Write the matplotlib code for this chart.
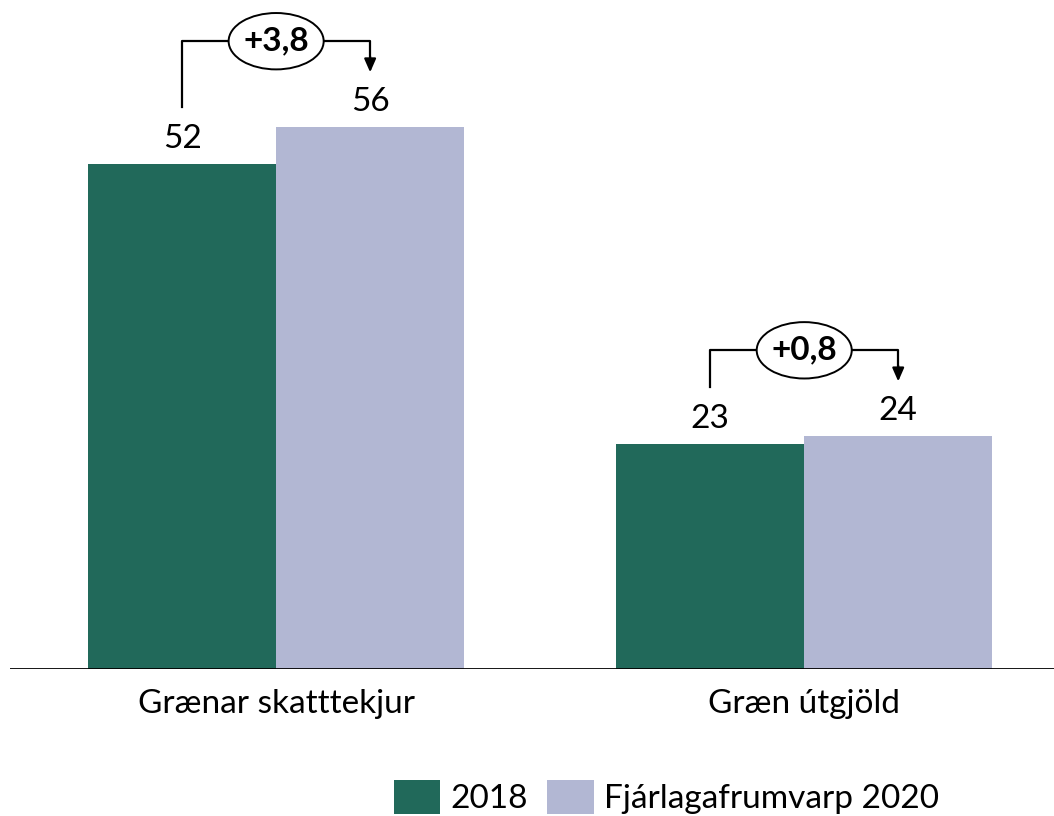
import matplotlib

matplotlib.use("Agg")
import matplotlib.pyplot as plt
import numpy as np
from matplotlib.patches import Ellipse

categories = ["Grænar skatttekjur", "Græn útgjöld"]
series_names = ["2018", "Fjárlagafrumvarp 2020"]
values_2018 = [52.0, 23.2]
values_2020 = [55.8, 24.0]
value_labels_2018 = ["52", "23"]
value_labels_2020 = ["56", "24"]
change_labels = ["+3,8", "+0,8"]

GREEN = "#21695A"
LAVENDER = "#B2B7D3"

plt.rcParams["font.family"] = ["Lato", "DejaVu Sans"]

fig = plt.figure(figsize=(10.54, 8.16), dpi=100)
ax = fig.add_axes([10 / 1054, 0.180, 1044 / 1054, 0.81])

x = np.arange(len(categories))
w = 0.356
ax.bar(x - w / 2, values_2018, w, color=GREEN, label=series_names[0])
ax.bar(x + w / 2, values_2020, w, color=LAVENDER, label=series_names[1])

ax.set_xlim(-0.504, 1.473)
ax.set_ylim(0, 68)
ax.axhline(0, color="black", lw=2, zorder=5)

for s in ax.spines.values():
    s.set_visible(False)
ax.set_yticks([])
ax.set_xticks(x)
ax.set_xticklabels(categories, fontsize=24)
ax.tick_params(axis="x", length=0, pad=14)

for i in range(len(categories)):
    ax.text(x[i] - w / 2, values_2018[i] + 1.0, value_labels_2018[i],
            ha="center", va="bottom", fontsize=24)
    ax.text(x[i] + w / 2, values_2020[i] + 1.0, value_labels_2020[i],
            ha="center", va="bottom", fontsize=24)

    top = max(values_2018[i], values_2020[i])
    y_line = top + 8.8
    x0 = x[i] - w / 2
    x1 = x[i] + w / 2
    ax.plot([x0, x0, x1, x1], [values_2018[i] + 5.8, y_line, y_line, values_2020[i] + 6.8],
            color="black", lw=1.6, zorder=3)
    ax.annotate("", xy=(x1, values_2020[i] + 5.6), xytext=(x1, values_2020[i] + 7.2),
                arrowprops=dict(arrowstyle="-|>,head_length=0.8,head_width=0.35",
                                color="black", lw=1.6, shrinkA=0, shrinkB=0))
    ax.add_patch(Ellipse((x[i], y_line), 0.18, 5.8, facecolor="white",
                         edgecolor="black", lw=1.4, zorder=4))
    ax.text(x[i], y_line, change_labels[i], ha="center", va="center",
            fontsize=24, fontweight="bold", zorder=6)

fig.legend(loc="center", bbox_to_anchor=(0.632, 0.023), ncol=2, frameon=False,
           fontsize=24, handlelength=1.4, handleheight=1.2, columnspacing=0.58,
           handletextpad=0.3)

fig.savefig("out.png", dpi=100)
plt.close(fig)
